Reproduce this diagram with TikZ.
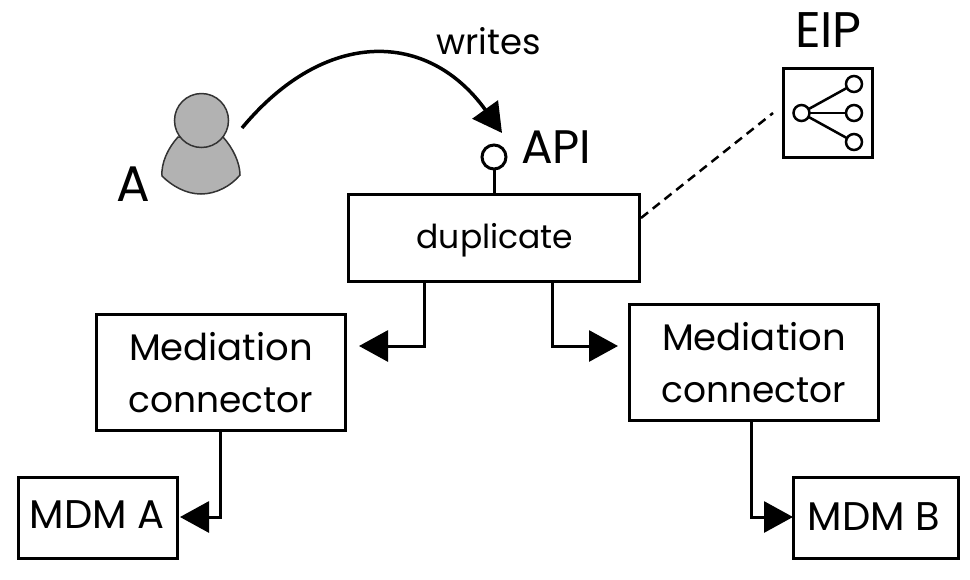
\documentclass[tikz,border=0pt]{standalone}
\usepackage{fontspec}
\setmainfont{Poppins}
\usetikzlibrary{arrows.meta}
\tikzset{
  box/.style={draw=black,line width=3pt,fill=white,inner sep=0pt,outer sep=0pt},
  txt/.style={inner sep=0pt,outer sep=0pt,anchor=base},
  conn/.style={draw=black,line width=3pt,-{Triangle[length=29pt,width=31pt]}},
  lab/.style={inner sep=0pt,outer sep=0pt,anchor=base west},
  icon/.style={draw=black,line width=2.5pt,fill=white,circle,minimum size=16pt,inner sep=0pt,outer sep=0pt},
  person/.style={draw=black!80,line width=1.5pt,fill=black!30}
}
\begin{document}
\begin{tikzpicture}[x=1pt,y=-1pt]
\useasboundingbox (0,0) rectangle (970,579);
% boxes
\node[box,minimum width=291pt,minimum height=87pt] (dup) at (493.5,237.5) {};
\node[box,minimum width=249pt,minimum height=116pt] (medl) at (220.5,372) {};
\node[box,minimum width=249pt,minimum height=116pt] (medr) at (753.5,362) {};
\node[box,minimum width=159pt,minimum height=81pt] (mdma) at (98,517.5) {};
\node[box,minimum width=165pt,minimum height=81pt] (mdmb) at (875.5,518) {};
\node[box,minimum width=89pt,minimum height=89pt] (eip) at (827.5,112.5) {};
% box texts
\node[txt,font=\fontsize{33}{40}\selectfont] (tdup) at (495,248) {duplicate};
\node[txt,font=\fontsize{37}{44}\selectfont] (tml1) at (221,360) {Mediation};
\node[txt,font=\fontsize{36}{44}\selectfont] (tml2) at (221,412) {connector};
\node[txt,font=\fontsize{37}{44}\selectfont] (tmr1) at (754,350) {Mediation};
\node[txt,font=\fontsize{36}{44}\selectfont] (tmr2) at (754,402) {connector};
\node[txt,font=\fontsize{40}{48}\selectfont] (tma) at (97,528) {MDM A};
\node[txt,font=\fontsize{40}{48}\selectfont] (tmb) at (874,530) {MDM B};
% person
\draw[person] (178,137) .. controls (168,148) and (161,163) .. (162,176) .. controls (172,186) and (186,194) .. (201,194) .. controls (216,194) and (231,186) .. (240,175) .. controls (240,163) and (233,148) .. (223,137) -- cycle;
\node[circle,draw=black!80,line width=1.5pt,fill=black!30,minimum size=54pt,inner sep=0pt,outer sep=0pt] (head) at (201.5,120.5) {};
% lollipop
\node[circle,draw=black,line width=3pt,fill=white,minimum size=24pt,inner sep=0pt,outer sep=0pt] (api) at (494,157) {};
\draw[line width=3pt] (api.south) -- (api.south |- dup.north);
% EIP icon
\node[icon] (i0) at (801.5,113) {};
\node[icon] (i1) at (854,84) {};
\node[icon] (i2) at (854,113) {};
\node[icon] (i3) at (854,142) {};
\draw[line width=2.5pt] (i0) -- (i1);
\draw[line width=2.5pt] (i0) -- (i2);
\draw[line width=2.5pt] (i0) -- (i3);
% labels
\node[lab,font=\fontsize{50}{58}\selectfont] (la) at (116,201) {A};
\node[lab,font=\fontsize{35.5}{42}\selectfont] (lw) at (436,54) {writes};
\node[lab,font=\fontsize{47}{56}\selectfont] (lapi) at (521,163) {API};
\node[lab,font=\fontsize{50}{58}\selectfont] (leip) at (795,47) {EIP};
% free ends
\coordinate (ws) at (242,128);
\coordinate (we) at (502,133);
\coordinate (dl) at (359,346);
\coordinate (dr) at (618,346);
\coordinate (ma) at (180,517);
\coordinate (mb) at (793,517);
\coordinate (ds) at (641,218);
\coordinate (de) at (773,113);
% connectors
\draw[conn,line width=3.5pt] (ws) .. controls (325,28) and (428,30) .. (we);
\draw[conn] ([xshift=-69.5pt]dup.south) |- (dl);
\draw[conn] ([xshift=58.5pt]dup.south) |- (dr);
\draw[conn] (medl.south) |- (ma);
\draw[conn] ([xshift=-2.5pt]medr.south) |- (mb);
\draw[line width=2.5pt,dash pattern=on 9pt off 6pt] (ds) -- (de);
\end{tikzpicture}
\end{document}
